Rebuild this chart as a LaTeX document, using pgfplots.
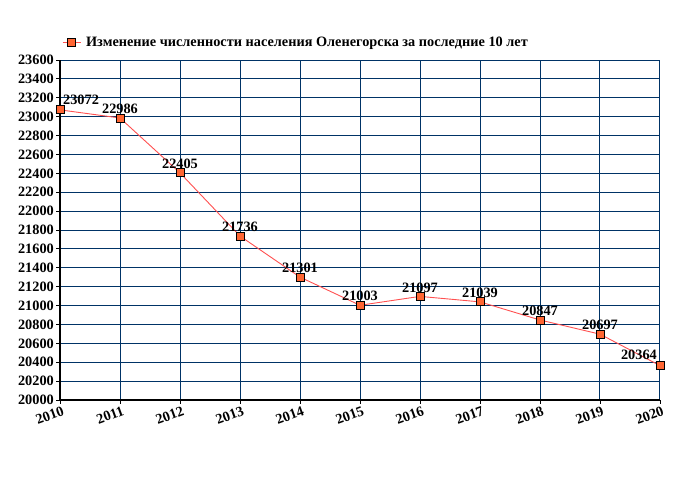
\documentclass[border=0pt]{standalone}
\usepackage{fontspec}
\setmainfont{Liberation Serif}
\usepackage{pgfplots}
\pgfplotsset{compat=1.18}
\definecolor{gridblue}{RGB}{0,51,102}
\definecolor{linered}{RGB}{255,80,80}
\definecolor{markorange}{RGB}{255,102,51}
\begin{document}
\begin{tikzpicture}
\useasboundingbox (0bp,0bp) rectangle (680bp,500bp);
\begin{axis}[
  at={(60bp,100bp)}, anchor=south west,
  scale only axis, width=600bp, height=340bp,
  xmin=2010, xmax=2020, ymin=20000, ymax=23600,
  xtick={2010,...,2020}, ytick={20000,20200,...,23600},
  scaled ticks=false,
  axis x line*=bottom, axis y line*=left,
  axis line style={black, line width=1.6bp, -},
  grid=major, major grid style={gridblue, line width=0.9bp},
  tick align=outside, major tick length=4bp,
  tick style={black, line width=0.8bp},
  clip=false,
  font=\fontsize{14.3bp}{16bp}\selectfont\bfseries,
  /pgf/number format/assume math mode=true,
  /pgf/number format/.cd, fixed, 1000 sep={}, /pgfplots/.cd,
  x tick label style={rotate=20, anchor=north east, inner sep=1bp, xshift=2bp, yshift=-1bp},
  y tick label style={inner sep=2bp},
  legend style={at={(0,1)}, anchor=south west, xshift=2bp, yshift=10bp, draw=none, fill=none, font=\fontsize{14.3bp}{16bp}\selectfont\bfseries, inner sep=0pt},
  legend cell align=left,
  legend image code/.code={
    \draw[linered, line width=0.9bp] (0bp,0bp) -- (18bp,0bp);
    \draw[black, line width=0.8bp, fill=markorange] (5bp,-4bp) rectangle (13bp,4bp);
  },
  nodes near coords style={font=\fontsize{14.3bp}{16bp}\selectfont\bfseries},
]
\addplot[linered, line width=0.9bp, mark=square*, mark size=4bp, mark options={fill=markorange, draw=black, line width=0.8bp}]
  coordinates {(2010,23072) (2011,22986) (2012,22405) (2013,21736) (2014,21301) (2015,21003) (2016,21097) (2017,21039) (2018,20847) (2019,20697) (2020,20364)};
\addlegendentry{\hspace{3bp}Изменение численности населения Оленегорска за последние 10 лет}
\addplot[draw=none, mark=none, nodes near coords, point meta=explicit symbolic,
  every node near coord/.append style={anchor=south, yshift=2bp, inner sep=2bp}, forget plot]
  coordinates {(2011,22986)[22986] (2012,22405)[22405] (2013,21736)[21736] (2014,21301)[21301] (2015,21003)[21003] (2016,21097)[21097] (2017,21039)[21039] (2018,20847)[20847] (2019,20697)[20697]};
\addplot[draw=none, mark=none, nodes near coords, point meta=explicit symbolic,
  every node near coord/.append style={anchor=south west, xshift=1bp, yshift=3bp, inner sep=2bp}, forget plot]
  coordinates {(2010,23072)[23072]};
\addplot[draw=none, mark=none, nodes near coords, point meta=explicit symbolic,
  every node near coord/.append style={anchor=south east, xshift=-1bp, yshift=4bp, inner sep=2bp}, forget plot]
  coordinates {(2020,20364)[20364]};
\end{axis}
\end{tikzpicture}
\end{document}
